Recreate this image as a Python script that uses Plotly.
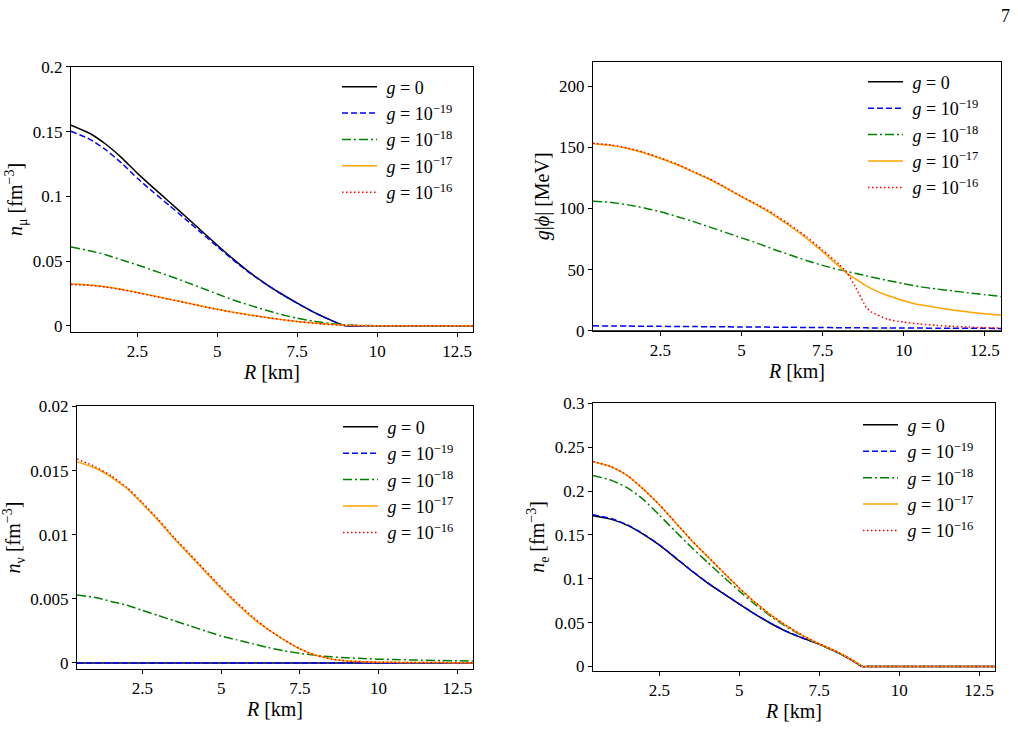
import plotly.graph_objects as go

# ---------------- data ----------------
R = [0.42, 1.0, 1.5, 2.0, 2.5, 3.0, 3.5, 4.0, 4.5, 5.0, 5.5, 6.0, 6.5, 7.0, 7.5,
     8.0, 8.25, 8.5, 8.85, 9.0, 9.5, 10.0, 10.5, 11.0, 11.5, 12.0, 12.5, 13.0]

labels = ["<i>g</i> = 0", "<i>g</i> = 10<sup>−19</sup>", "<i>g</i> = 10<sup>−18</sup>",
          "<i>g</i> = 10<sup>−17</sup>", "<i>g</i> = 10<sup>−16</sup>"]

# n_mu [fm^-3]
nmu_g0 = [0.1551, 0.1488, 0.1405, 0.1300, 0.1178, 0.1066, 0.0957, 0.0847, 0.0735, 0.0623, 0.0515, 0.0415,
          0.0327, 0.0248, 0.0175, 0.0108, 0.0078, 0.0050, 0.0013, 0.0, 0, 0, 0, 0, 0, 0, 0, 0]
nmu_g19 = [0.1503, 0.1443, 0.1362, 0.1258, 0.1140, 0.1032, 0.0929, 0.0825, 0.0718, 0.0612, 0.0508, 0.0411,
           0.0325, 0.0246, 0.0174, 0.0107, 0.0077, 0.0049, 0.0012, 0.0, 0, 0, 0, 0, 0, 0, 0, 0]
nmu_g18 = [0.061, 0.058, 0.055, 0.051, 0.047, 0.0428, 0.0385, 0.034, 0.0293, 0.0246, 0.020, 0.016, 0.0122,
           0.0088, 0.0059, 0.0036, 0.0027, 0.0019, 0.0010, 0.0007, 0.0003, 0.0001, 0.0001, 0.0001, 0, 0, 0, 0]
nmu_g17 = [0.0325, 0.0316, 0.0302, 0.0282, 0.0258, 0.0232, 0.0206, 0.018, 0.0153, 0.0128, 0.0105, 0.0085,
           0.0066, 0.0049, 0.0034, 0.0022, 0.0017, 0.0012, 0.0007, 0.0005, 0.0002, 0.0001, 0, 0, 0, 0, 0, 0]
nmu_g16 = [0.032, 0.0313, 0.030, 0.028, 0.0256, 0.023, 0.0205, 0.0179, 0.0152, 0.0127, 0.0104, 0.0084, 0.0065,
           0.0048, 0.0033, 0.0021, 0.0016, 0.0011, 0.0006, 0.0004, 0.0001, 0, 0, 0, 0, 0, 0, 0]

# g|phi| [MeV]
phi_g0 = [0.0] * 28
phi_g19 = [4.0, 3.9, 3.8, 3.7, 3.6, 3.5, 3.4, 3.3, 3.2, 3.1, 3.0, 2.9, 2.8, 2.7, 2.6, 2.5, 2.45, 2.4, 2.35, 2.3,
           2.25, 2.2, 2.15, 2.1, 2.05, 2.0, 1.95, 1.9]
phi_g18 = [106, 105, 103, 100.5, 97.3, 93.5, 89.5, 85, 80.5, 76, 71.5, 66.5, 62, 57.5, 53.5, 50, 48.5, 47,
           45, 44, 41.2, 38.5, 36, 34.2, 32.6, 31, 29.5, 28]
phi_g17 = [153, 151.5, 149, 145.5, 141, 136, 130, 124, 117, 109.5, 102.5, 94.5, 85.5, 75.5, 64.5, 52.7,
           47.0, 42.7, 36.7, 34.5, 28.8, 24.6, 21.2, 19.0, 17.0, 15.3, 13.9, 12.7]
phi_g16 = [153.5, 152, 149.5, 146, 141.5, 136.5, 130.5, 124.5, 117.5, 110, 103, 95.5, 86.5, 77, 66, 54.5,
           47.5, 36.5, 19, 15.5, 9.4, 7.0, 5.5, 4.4, 3.6, 3.0, 2.5, 2.2]

# n_nu [fm^-3]
nnu_g0 = [0.0] * 28
nnu_g19 = [0.0] * 28
nnu_g18 = [0.0053, 0.0051, 0.0048, 0.0045, 0.0041, 0.0037, 0.0033, 0.0029, 0.0025, 0.0021, 0.0018, 0.0015,
           0.0012, 0.00095, 0.00075, 0.0006, 0.00053, 0.00048, 0.00042, 0.0004, 0.00035, 0.0003, 0.00027,
           0.00024, 0.00021, 0.00019, 0.00017, 0.00015]
nnu_g17 = [0.0157, 0.0152, 0.0145, 0.0136, 0.0124, 0.0111, 0.0097, 0.0084, 0.0071, 0.0058, 0.0046, 0.0035,
           0.0026, 0.0018, 0.0011, 0.0006, 0.00045, 0.0003, 0.0002, 0.00015, 0.0001, 0.00006, 0.00005,
           0.00004, 0.00003, 0.00003, 0.00002, 0.00002]
nnu_g16 = [0.0159, 0.0153, 0.0146, 0.0137, 0.0125, 0.0112, 0.0098, 0.0085, 0.0072, 0.0059, 0.0047, 0.0036,
           0.0026, 0.0018, 0.0011, 0.0006, 0.00045, 0.0003, 0.0002, 0.00015, 0.0001, 0.00006, 0.00005,
           0.00004, 0.00003, 0.00003, 0.00002, 0.00002]

# n_e [fm^-3]
ne_g0 = [0.172, 0.1678, 0.161, 0.1507, 0.1384, 0.1240, 0.1092, 0.0955, 0.0832, 0.0712, 0.0595, 0.0488,
         0.0396, 0.0322, 0.0255, 0.0173, 0.0128, 0.0076, 0, 0, 0, 0, 0, 0, 0, 0, 0, 0]
ne_g19 = [0.1732, 0.1686, 0.1616, 0.1511, 0.1387, 0.1242, 0.1094, 0.0957, 0.0834, 0.0713, 0.0596, 0.0489,
          0.0397, 0.0323, 0.0256, 0.0174, 0.0129, 0.0077, 0, 0, 0, 0, 0, 0, 0, 0, 0, 0]
ne_g18 = [0.218, 0.2123, 0.2038, 0.1903, 0.1725, 0.1540, 0.1360, 0.1190, 0.1023, 0.0860, 0.0705, 0.0568,
          0.0447, 0.0343, 0.0253, 0.0174, 0.0128, 0.0079, 0, 0, 0, 0, 0, 0, 0, 0, 0, 0]
ne_g17 = [0.2335, 0.2275, 0.2175, 0.2020, 0.1842, 0.1640, 0.1438, 0.1255, 0.1072, 0.0893, 0.0728, 0.0583,
          0.0458, 0.0350, 0.0258, 0.0178, 0.0131, 0.0082, 0, 0, 0, 0, 0, 0, 0, 0, 0, 0]
ne_g16 = [0.2338, 0.2278, 0.2178, 0.2023, 0.1845, 0.1643, 0.1441, 0.1258, 0.1075, 0.0896, 0.0730, 0.0585,
          0.0460, 0.0352, 0.0259, 0.0179, 0.0132, 0.0083, 0, 0, 0, 0, 0, 0, 0, 0, 0, 0]

x_ticks = [2.5, 5, 7.5, 10, 12.5]
x_ticktext = ["2.5", "5", "7.5", "10", "12.5"]
y1_ticks = [0, 0.05, 0.1, 0.15, 0.2]
y1_text = ["0", "0.05", "0.1", "0.15", "0.2"]
y2_ticks = [0, 50, 100, 150, 200]
y2_text = ["0", "50", "100", "150", "200"]
y3_ticks = [0, 0.005, 0.01, 0.015, 0.02]
y3_text = ["0", "0.005", "0.01", "0.015", "0.02"]
y4_ticks = [0, 0.05, 0.1, 0.15, 0.2, 0.25, 0.3]
y4_text = ["0", "0.05", "0.1", "0.15", "0.2", "0.25", "0.3"]

# ---------------- style ----------------
colors = ["#000000", "#0000ff", "#008000", "#ffa500", "#ff0000"]
dashes = ["solid", "6px,3px", "9px,3px,2px,3px", "solid", "1.5px,2.5px"]
FONT = "Liberation Serif, DejaVu Serif, serif"

panels = [
    dict(series=[nmu_g0, nmu_g19, nmu_g18, nmu_g17, nmu_g16], ax="", leg="legend",
         dx=[71, 473], dy=[59.5, 331.2], yr=[-0.0046, 0.2], yt=y1_ticks, ytt=y1_text,
         ytitle="<i>n</i><sub>μ</sub> [fm<sup>−3</sup>]", legpos=(337, 61), xs=3),
    dict(series=[phi_g0, phi_g19, phi_g18, phi_g17, phi_g16], ax="2", leg="legend2",
         dx=[593, 1001], dy=[54.3, 330.1], yr=[0, 220], yt=y2_ticks, ytt=y2_text,
         ytitle="<i>g</i>|<i>ϕ</i>| [MeV]", legpos=(863, 56), xs=3),
    dict(series=[nnu_g0, nnu_g19, nnu_g18, nnu_g17, nnu_g16], ax="3", leg="legend3",
         dx=[77, 473], dy=[407.8, 676.8], yr=[-0.00044, 0.02], yt=y3_ticks, ytt=y3_text,
         ytitle="<i>n</i><sub>ν</sub> [fm<sup>−3</sup>]", legpos=(338, 410), xs=0),
    dict(series=[ne_g0, ne_g19, ne_g18, ne_g17, ne_g16], ax="4", leg="legend4",
         dx=[593, 995], dy=[404.7, 678.8], yr=[-0.0046, 0.3], yt=y4_ticks, ytt=y4_text,
         ytitle="<i>n</i><sub>e</sub> [fm<sup>−3</sup>]", legpos=(858, 408), xs=0),
]

W, H = 1018, 749
fig = go.Figure()
layout = dict(width=W, height=H, margin=dict(l=0, r=0, t=0, b=0),
              paper_bgcolor="white", plot_bgcolor="white",
              font=dict(family=FONT, size=16, color="black"))

for p in panels:
    xa = "x" + p["ax"]
    ya = "y" + p["ax"]
    for i, (s, lab) in enumerate(zip(p["series"], labels)):
        fig.add_trace(go.Scatter(
            x=R, y=s, mode="lines", name="\u00a0" + lab, xaxis=xa, yaxis=ya,
            line=dict(color=colors[i], width=1.5, dash=dashes[i], shape="spline", smoothing=0.5),
            legend=p["leg"], legendgroup=p["leg"] + str(i), showlegend=True))
    axis_common = dict(showline=True, linecolor="black", linewidth=1, mirror=True,
                       ticks="outside", ticklen=4, tickcolor="black", showgrid=False,
                       zeroline=False, tickfont=dict(family=FONT, size=17))
    layout["xaxis" + p["ax"]] = dict(
        domain=[p["dx"][0] / W, p["dx"][1] / W], range=[0.42, 13.0], anchor=ya,
        tickvals=x_ticks, ticktext=x_ticktext,
        title=dict(text="<i>R</i> [km]", font=dict(family=FONT, size=20), standoff=p["xs"]),
        **axis_common)
    layout["yaxis" + p["ax"]] = dict(
        domain=[1 - p["dy"][1] / H, 1 - p["dy"][0] / H], range=p["yr"], anchor=xa,
        tickvals=p["yt"], ticktext=p["ytt"],
        title=dict(text=p["ytitle"], font=dict(family=FONT, size=20), standoff=4), **axis_common)
    lx, ly = p["legpos"]
    layout[p["leg"]] = dict(x=lx / W, y=1 - ly / H, xanchor="left", yanchor="top",
                            bgcolor="rgba(255,255,255,0)", borderwidth=0,
                            font=dict(family=FONT, size=18), tracegroupgap=0, itemwidth=35)

fig.update_layout(**layout)
fig.add_annotation(text="7", x=1005 / W, y=1 - 7.5 / H, xref="paper", yref="paper",
                   xanchor="center", yanchor="middle",
                   showarrow=False, font=dict(family=FONT, size=18, color="black"))
fig.write_html("out.html")
